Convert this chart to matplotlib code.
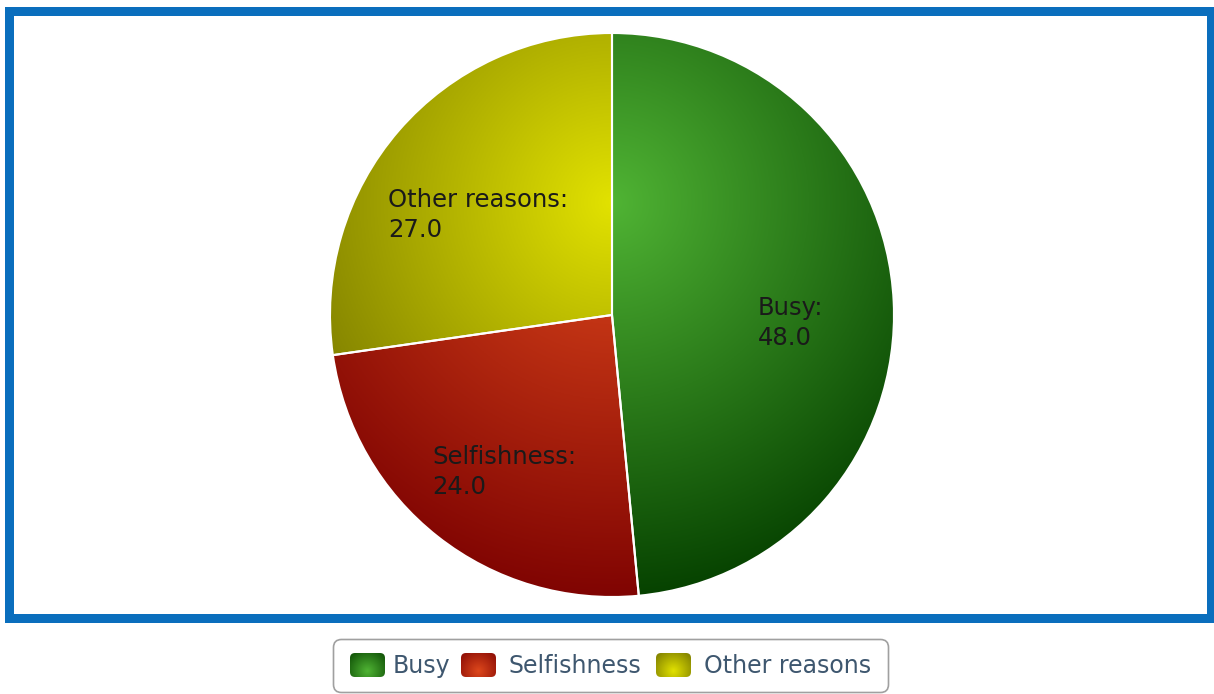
import numpy as np
import matplotlib
matplotlib.use('Agg')
from matplotlib import pyplot as plt
from matplotlib.patches import Rectangle, FancyBboxPatch

# Dados do gráfico
categorias = ['Busy', 'Selfishness', 'Other reasons']
valores = [48.0, 24.0, 27.0]
# cor clara (centro do gradiente) e cor escura (borda)
cores_claras = [(80, 180, 52), (222, 72, 28), (226, 226, 0)]
cores_escuras = [(6, 66, 0), (128, 4, 2), (112, 112, 0)]

plt.rcParams['font.family'] = ['DejaVu Sans']

W, H = 1214, 694
fig = plt.figure(figsize=(W / 100, H / 100), dpi=100)

# eixo de fundo em pixels (borda azul)
bg = fig.add_axes([0, 0, 1, 1])
bg.set_xlim(0, W)
bg.set_ylim(H, 0)
bg.axis('off')
bg.add_patch(Rectangle((8.5, 10.5), 1202.5, 607, fill=False, clip_on=False,
                       edgecolor='#0a6ebd', linewidth=9 * 0.72))


def gradiente(c0, c1, cx, cy, r, ext, n=300):
    x = np.linspace(ext[0], ext[1], n)
    y = np.linspace(ext[3], ext[2], n)
    xx, yy = np.meshgrid(x, y)
    t = np.clip(np.hypot(xx - cx, yy - cy) / r, 0, 1)[..., None]
    a = np.array(c0) / 255.0
    b = np.array(c1) / 255.0
    return a + (b - a) * t


# eixo da pizza: centro (612, 315) px, raio 282 px
cx, cy, R = 612, 315, 282
ax = fig.add_axes([(cx - R) / W, (H - cy - R) / H, 2 * R / W, 2 * R / H])
wedges, _ = ax.pie(valores, startangle=90, counterclock=False, radius=1,
                   wedgeprops=dict(edgecolor='white', linewidth=1.5,
                                   facecolor='none', zorder=3))
for w, c0, c1 in zip(wedges, cores_claras, cores_escuras):
    img = gradiente(c0, c1, 0, 0.4, 1.4, (-1, 1, -1, 1))
    im = ax.imshow(img, extent=(-1, 1, -1, 1), zorder=1, aspect='auto')
    im.set_clip_path(w)
ax.set_xlim(-1, 1)
ax.set_ylim(-1, 1)
ax.axis('off')
bg.set_zorder(0)
ax.set_zorder(1)

# camada de cima: rótulos e legenda
leg = fig.add_axes([0, 0, 1, 1])
leg.set_xlim(0, W)
leg.set_ylim(H, 0)
leg.axis('off')
leg.set_zorder(2)

# rótulos dentro das fatias (posição em pixels)
pos_rotulos = [(758, 296), (432, 445), (388, 188)]
for (px, py), nome, v in zip(pos_rotulos, categorias, valores):
    leg.text(px, py, f'{nome}:\n{v:.1f}', fontsize=17.5, color='#1a1a1a',
             ha='left', va='top', linespacing=1.3, zorder=5)

# legenda desenhada à mão
leg.add_patch(FancyBboxPatch((333.5, 639.5), 555, 53,
                             boxstyle='round,pad=0,rounding_size=8',
                             facecolor='white', edgecolor='#a0a0a0', linewidth=1.2))
mx = [350, 461, 656]
tx = [393, 509, 704]
for m, t, nome, c0, c1 in zip(mx, tx, categorias, cores_claras, cores_escuras):
    box = FancyBboxPatch((m, 653), 35, 24, boxstyle='round,pad=0,rounding_size=5',
                         facecolor='none', edgecolor='none')
    leg.add_patch(box)
    img = gradiente(c0, c1, m + 17.5, 659, 28, (m, m + 35, 653, 677), n=60)
    im = leg.imshow(img, extent=(m, m + 35, 677, 653), aspect='auto', zorder=2)
    im.set_clip_path(box)
    leg.text(t, 666, nome, fontsize=17, color='#3e576f', ha='left', va='center')
leg.set_xlim(0, W)
leg.set_ylim(H, 0)

plt.savefig('out.png', dpi=100)
